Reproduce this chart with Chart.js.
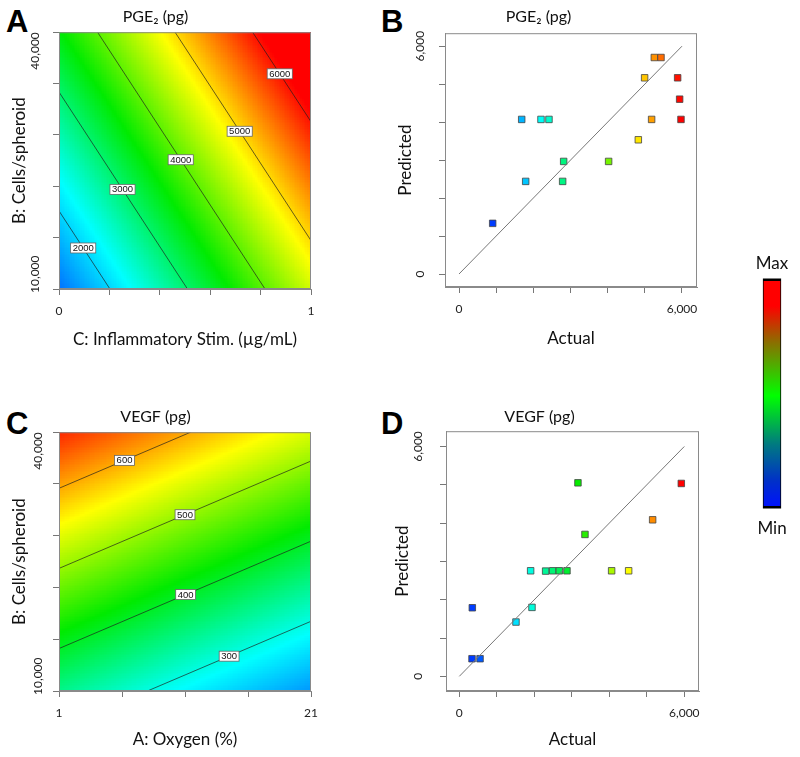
<!DOCTYPE html>
<html>
<head>
<meta charset="utf-8">
<script src="https://cdn.jsdelivr.net/npm/chart.js@4.4.1/dist/chart.umd.min.js"></script>
<style>
  body { margin: 0; background: #fff; width: 800px; height: 757px; position: relative; overflow: hidden; }
  canvas { position: absolute; }
  .tag { position: absolute; font: bold 31px "Liberation Sans", Arial, sans-serif; line-height: 1; color: #000; }
</style>
</head>
<body>
<div class="tag" style="left:6px;top:6px">A</div>
<div class="tag" style="left:381px;top:6px">B</div>
<div class="tag" style="left:6px;top:408px">C</div>
<div class="tag" style="left:381px;top:408px">D</div>

<canvas id="chartA" width="370" height="360" style="left:0;top:0"></canvas>
<canvas id="chartB" width="382" height="360" style="left:380px;top:0"></canvas>
<canvas id="chartC" width="370" height="357" style="left:0;top:400px"></canvas>
<canvas id="chartD" width="385" height="357" style="left:380px;top:400px"></canvas>
<canvas id="scaleBar" width="58" height="295" style="left:743px;top:250px"></canvas>

<script>
// response surfaces, coded factors (-1..1): [intercept, x-factor, y-factor]
const pgeCoef = [4048, 1625, 1080];
const pgeLevels = [2000, 3000, 4000, 5000, 6000];
const pgeLabelX = [0.096, 0.252, 0.483, 0.717, 0.876];
const pgeColorRange = [1000, 6100];

const vegfCoef = [441.5, -67, 161.5];
const vegfLevels = [300, 400, 500, 600];
const vegfLabelX = [14.5, 11.05, 11, 6.2];
const vegfColorRange = [150, 690];

// axes
const stimTicks = [0, 0.2, 0.4, 0.6, 0.8, 1];
const stimLabels = ['0', '', '', '', '', '1'];
const oxygenTicks = [1, 6, 11, 16, 21];
const oxygenLabels = ['1', '', '', '', '21'];
const cellTicks = [10000, 16000, 22000, 28000, 34000, 40000];
const cellLabels = ['10,000', '', '', '', '', '40,000'];
const fitTicks = [0, 1000, 2000, 3000, 4000, 5000, 6000];
const fitLabels = ['0', '', '', '', '', '', '6,000'];

// actual vs predicted
const pgeActual = [906, 1687, 1794, 2206, 2421, 2789, 2816, 4026, 4825, 4995, 5183, 5255, 5435, 5883, 5937, 5973];
const pgePredicted = [1334, 4071, 2439, 4071, 4071, 2439, 2965, 2965, 3535, 5167, 4071, 5702, 5702, 5167, 4605, 4071];
const vegfActual = [339, 347, 553, 1511, 1902, 1938, 2302, 2489, 2667, 2871, 3164, 3351, 4062, 4516, 5156, 5920];
const vegfPredicted = [460, 1790, 460, 1417, 2755, 1800, 2747, 2755, 2755, 2755, 5051, 3704, 2755, 2755, 4086, 5035];
const diagonal = [0, 6000];

const FONT = 'Lato, "Open Sans", "Noto Sans", sans-serif';
const tickFont = { family: FONT, size: 12 };
const axisFont = { family: FONT, size: 17, weight: 'normal' };
const titleFont = { family: FONT, size: 16, weight: 'normal' };

// blue - cyan - green - yellow - red
const rampStops = [[0, 60, 255], [0, 255, 255], [0, 235, 0], [255, 255, 0], [255, 0, 0]];
function ramp(t) {
  t = Math.min(1, Math.max(0, t)) * 4;
  const i = Math.min(3, Math.floor(t)), f = t - i;
  const a = rampStops[i], b = rampStops[i + 1];
  return 'rgb(' + a.map((c, k) => Math.round(c + (b[k] - c) * f)).join(',') + ')';
}

function decode(c, r) { return r[0] + (c + 1) / 2 * (r[1] - r[0]); }
function encode(v, r) { return 2 * (v - r[0]) / (r[1] - r[0]) - 1; }

function contourLines(coef, levels, xr, yr) {
  const [c0, c1, c2] = coef;
  return levels.map(level => {
    const pts = [];
    [-1, 1].forEach(a => { const b = (level - c0 - c1 * a) / c2; if (b >= -1 && b <= 1) pts.push([a, b]); });
    [-1, 1].forEach(b => { const a = (level - c0 - c2 * b) / c1; if (a > -1 && a < 1) pts.push([a, b]); });
    pts.sort((p, q) => p[0] - q[0]);
    return pts.slice(0, 2).map(([a, b]) => ({ x: decode(a, xr), y: decode(b, yr) }));
  });
}

// heat map + contour labels
const surface = {
  id: 'surface',
  beforeDatasetsDraw(chart, args, o) {
    const { ctx, scales: { x, y } } = chart;
    const xr = [x.min, x.max], yr = [y.min, y.max];
    const n = 150;
    ctx.save();
    for (let i = 0; i < n; i++) {
      const x0 = Math.floor(x.getPixelForValue(decode(-1 + 2 * i / n, xr)));
      const x1 = Math.ceil(x.getPixelForValue(decode(-1 + 2 * (i + 1) / n, xr)));
      for (let j = 0; j < n; j++) {
        const y0 = Math.ceil(y.getPixelForValue(decode(-1 + 2 * j / n, yr)));
        const y1 = Math.floor(y.getPixelForValue(decode(-1 + 2 * (j + 1) / n, yr)));
        const a = -1 + (2 * i + 1) / n, b = -1 + (2 * j + 1) / n;
        const v = o.coef[0] + o.coef[1] * a + o.coef[2] * b;
        ctx.fillStyle = ramp((v - o.range[0]) / (o.range[1] - o.range[0]));
        ctx.fillRect(x0, y1, x1 - x0, y0 - y1);
      }
    }
    ctx.restore();
  },
  afterDatasetsDraw(chart, args, o) {
    const { ctx, scales: { x, y } } = chart;
    const xr = [x.min, x.max], yr = [y.min, y.max];
    ctx.save();
    ctx.font = '9.5px "Liberation Sans", Arial, sans-serif';
    ctx.textAlign = 'center';
    ctx.textBaseline = 'middle';
    o.levels.forEach((level, i) => {
      const a = encode(o.labelX[i], xr);
      const b = (level - o.coef[0] - o.coef[1] * a) / o.coef[2];
      const px = x.getPixelForValue(o.labelX[i]), py = y.getPixelForValue(decode(b, yr));
      const text = String(level);
      const w = ctx.measureText(text).width + 4, h = 10;
      ctx.fillStyle = '#fff';
      ctx.fillRect(px - w / 2, py - h / 2, w, h);
      ctx.strokeStyle = '#666';
      ctx.lineWidth = 0.8;
      ctx.strokeRect(px - w / 2, py - h / 2, w, h);
      ctx.fillStyle = '#111';
      ctx.fillText(text, px, py + 0.5);
    });
    ctx.restore();
  }
};

// box round the plot + vertical y tick labels
const frame = {
  id: 'frame',
  afterDraw(chart, args, o) {
    const { ctx, chartArea: a, scales: { y } } = chart;
    ctx.save();
    ctx.strokeStyle = '#8a8a8a';
    ctx.lineWidth = 1;
    ctx.strokeRect(a.left + 0.5, a.top + 0.5, a.width - 1, a.height - 1);
    ctx.font = '12px ' + FONT;
    ctx.fillStyle = '#222';
    ctx.textBaseline = 'middle';
    o.ticks.forEach((v, i) => {
      if (!o.labels[i]) return;
      let py = y.getPixelForValue(v), align = 'center';
      if (o.inward) {
        align = i === 0 ? 'left' : 'right';
        if (i === 0) py += 4;
      }
      ctx.save();
      ctx.translate(a.left - o.gap, py);
      ctx.rotate(-Math.PI / 2);
      ctx.textAlign = align;
      ctx.fillText(o.labels[i], 0, 0);
      ctx.restore();
    });
    ctx.restore();
  }
};

function xAxis(min, max, ticks, labels, title, size, padBottom) {
  return {
    type: 'linear', min, max,
    afterBuildTicks: s => { s.ticks = ticks.map(v => ({ value: v })); },
    afterFit: s => { s.height = size; },
    grid: { drawOnChartArea: false, tickLength: 6, color: '#777' },
    border: { color: '#8a8a8a' },
    ticks: { autoSkip: false, maxRotation: 0, padding: 9, color: '#222', font: tickFont, callback: (v, i) => labels[i] },
    title: { display: true, text: title, font: axisFont, color: '#111', padding: { top: 0, bottom: padBottom } }
  };
}

function yAxis(min, max, ticks, title, size, padTop) {
  return {
    type: 'linear', min, max,
    afterBuildTicks: s => { s.ticks = ticks.map(v => ({ value: v })); },
    afterFit: s => { s.width = size; },
    grid: { drawOnChartArea: false, tickLength: 6, color: '#777' },
    border: { color: '#8a8a8a' },
    ticks: { display: false },
    title: { display: true, text: title, font: axisFont, color: '#111', padding: { top: padTop, bottom: 0 } }
  };
}

function surfaceChart(id, p) {
  const lines = contourLines(p.coef, p.levels, p.xRange, p.yRange);
  return new Chart(document.getElementById(id), {
    type: 'scatter',
    data: {
      datasets: lines.map(pts => ({
        data: pts, showLine: true, pointRadius: 0,
        borderColor: 'rgba(30,30,30,0.85)', borderWidth: 0.8
      }))
    },
    options: {
      responsive: false,
      animation: false,
      layout: { padding: { right: p.padRight } },
      plugins: {
        legend: { display: false },
        tooltip: { enabled: false },
        title: { display: true, text: p.title, font: titleFont, color: '#111', padding: p.titlePad },
        surface: { coef: p.coef, range: p.colorRange, levels: p.levels, labelX: p.labelX },
        frame: { ticks: cellTicks, labels: cellLabels, gap: p.gap, inward: true }
      },
      scales: {
        x: xAxis(p.xRange[0], p.xRange[1], p.xTicks, p.xLabels, p.xTitle, p.xSize, p.xPad),
        y: yAxis(p.yRange[0], p.yRange[1], cellTicks, 'B: Cells/spheroid', p.ySize, 9)
      }
    },
    plugins: [surface, frame]
  });
}

function fitChart(id, p) {
  const lo = Math.min(...p.actual), hi = Math.max(...p.actual);
  return new Chart(document.getElementById(id), {
    type: 'scatter',
    data: {
      datasets: [
        {
          data: diagonal.map(v => ({ x: v, y: v })),
          showLine: true, pointRadius: 0, borderColor: '#777', borderWidth: 1
        },
        {
          data: p.actual.map((v, i) => ({ x: v, y: p.predicted[i] })),
          pointStyle: 'rect', pointRadius: 4.6,
          pointBackgroundColor: p.actual.map(v => ramp((v - lo) / (hi - lo))),
          pointBorderColor: '#444', pointBorderWidth: 0.8
        }
      ]
    },
    options: {
      responsive: false,
      animation: false,
      layout: { padding: { right: p.padRight } },
      plugins: {
        legend: { display: false },
        tooltip: { enabled: false },
        title: { display: true, text: p.title, font: titleFont, color: '#111', padding: p.titlePad },
        frame: { ticks: fitTicks, labels: fitLabels, gap: p.gap, inward: false }
      },
      scales: {
        x: xAxis(p.xRange[0], p.xRange[1], fitTicks, fitLabels, 'Actual', p.xSize, p.xPad),
        y: yAxis(p.yRange[0], p.yRange[1], fitTicks, 'Predicted', p.ySize, p.yPad)
      }
    },
    plugins: [frame]
  });
}

surfaceChart('chartA', {
  title: 'PGE\u2082 (pg)', coef: pgeCoef, levels: pgeLevels, labelX: pgeLabelX, colorRange: pgeColorRange,
  xRange: [0, 1], yRange: [10000, 40000], xTicks: stimTicks, xLabels: stimLabels,
  xTitle: 'C: Inflammatory Stim. (\u00b5g/mL)', xSize: 71, xPad: 10, ySize: 59, padRight: 59,
  titlePad: { top: 7, bottom: 6 }, gap: 24
});

surfaceChart('chartC', {
  title: 'VEGF (pg)', coef: vegfCoef, levels: vegfLevels, labelX: vegfLabelX, colorRange: vegfColorRange,
  xRange: [1, 21], yRange: [10000, 40000], xTicks: oxygenTicks, xLabels: oxygenLabels,
  xTitle: 'A: Oxygen (%)', xSize: 66, xPad: 7, ySize: 59, padRight: 59,
  titlePad: { top: 7, bottom: 6 }, gap: 21
});

fitChart('chartB', {
  title: 'PGE\u2082 (pg)', actual: pgeActual, predicted: pgePredicted,
  xRange: [-377, 6404], yRange: [-342, 6342], xSize: 73, xPad: 11, ySize: 65, yPad: 15, padRight: 65,
  titlePad: { top: 7, bottom: 7 }, gap: 25
});

fitChart('chartD', {
  title: 'VEGF (pg)', actual: vegfActual, predicted: vegfPredicted,
  xRange: [-355, 6392], yRange: [-383, 6399], xSize: 66, xPad: 7, ySize: 66, yPad: 12, padRight: 66,
  titlePad: { top: 7, bottom: 5 }, gap: 28
});

// Max / Min colour key
const barStops = [[0, '#0010ff'], [0.12, '#0030c8'], [0.28, '#007a80'], [0.49, '#00ff00'], [0.72, '#8a7000'], [0.88, '#ff0000'], [1, '#ff0000']];
new Chart(document.getElementById('scaleBar'), {
  type: 'bar',
  data: {
    labels: [''],
    datasets: [{
      data: [[0, 1]],
      barThickness: 18,
      borderSkipped: false,
      borderColor: '#000',
      borderWidth: { top: 3, bottom: 3, left: 1, right: 1 },
      backgroundColor: c => {
        const a = c.chart.chartArea;
        if (!a) return null;
        const g = c.chart.ctx.createLinearGradient(0, a.bottom, 0, a.top);
        barStops.forEach(([t, col]) => g.addColorStop(t, col));
        return g;
      }
    }]
  },
  options: {
    responsive: false,
    animation: false,
    plugins: {
      legend: { display: false },
      tooltip: { enabled: false },
      title: { display: true, text: 'Max', font: axisFont, color: '#111', padding: { top: 3, bottom: 5 } },
      subtitle: { display: true, position: 'bottom', text: 'Min', font: axisFont, color: '#111', padding: { top: 10, bottom: 6 } }
    },
    scales: {
      x: { display: false },
      y: { display: false, min: 0, max: 1 }
    }
  }
});
</script>
</body>
</html>
